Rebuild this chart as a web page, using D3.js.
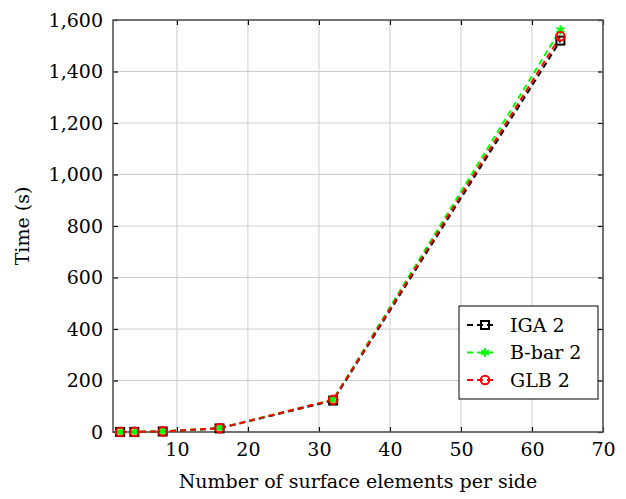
<!DOCTYPE html>
<html>
<head>
<meta charset="utf-8">
<script src="https://cdn.jsdelivr.net/npm/d3@7"></script>
<style>
  html, body { margin: 0; padding: 0; background: #fff; }
  svg { display: block; }
</style>
</head>
<body>
<svg id="chart" width="626" height="499"></svg>
<script>
// Elements per side and run times (s)
const elements = [2, 4, 8, 16, 32, 64];
const igaTime = [0.3, 0.4, 2, 14, 122, 1520];
const bbarTime = [0.3, 0.4, 2.5, 15, 126, 1562];
const glbTime = [0.3, 0.4, 2.3, 15, 125, 1537];

const xTicks = [10, 20, 30, 40, 50, 60, 70];
const yTicks = [0, 200, 400, 600, 800, 1000, 1200, 1400, 1600];

const series = [
  { name: "IGA 2", values: igaTime, color: "#000000", marker: "square" },
  { name: "B-bar 2", values: bbarTime, color: "#00ff00", marker: "star" },
  { name: "GLB 2", values: glbTime, color: "#ff0000", marker: "circle" }
];

const FONT = "DejaVu Serif";
const FS = "19px";

const svg = d3.select("#chart");
const plot = { left: 113, right: 603, top: 20, bottom: 432 };

const x = d3.scaleLinear().domain([1, 70]).range([plot.left, plot.right]);
const y = d3.scaleLinear().domain([0, 1600]).range([plot.bottom, plot.top]);

// grid
const grid = svg.append("g");
grid.selectAll("line.gx").data(xTicks).join("line")
  .attr("x1", d => x(d)).attr("x2", d => x(d))
  .attr("y1", plot.top).attr("y2", plot.bottom)
  .attr("stroke", "#cccccc").attr("stroke-width", 1);
grid.selectAll("line.gy").data(yTicks).join("line")
  .attr("x1", plot.left).attr("x2", plot.right)
  .attr("y1", d => y(d)).attr("y2", d => y(d))
  .attr("stroke", "#cccccc").attr("stroke-width", 1);

// axes with inward ticks on all four sides
const fmt = d3.format(",");
const bottomAxis = d3.axisBottom(x).tickValues(xTicks).tickSizeInner(-5).tickSizeOuter(0).tickPadding(11);
const topAxis = d3.axisTop(x).tickValues(xTicks).tickSizeInner(-5).tickSizeOuter(0).tickFormat("");
const leftAxis = d3.axisLeft(y).tickValues(yTicks).tickSizeInner(-5).tickSizeOuter(0).tickPadding(10).tickFormat(fmt);
const rightAxis = d3.axisRight(y).tickValues(yTicks).tickSizeInner(-5).tickSizeOuter(0).tickFormat("");

function styleAxis(g) {
  g.attr("font-family", FONT).attr("font-size", FS);
  g.select(".domain").remove();
  g.selectAll(".tick line").attr("stroke", "#000").attr("stroke-width", 1.2);
  g.selectAll(".tick text").attr("font-family", FONT).attr("font-size", FS).attr("fill", "#000");
}

svg.append("g").attr("transform", `translate(0,${plot.bottom})`).call(bottomAxis).call(styleAxis);
svg.append("g").attr("transform", `translate(0,${plot.top})`).call(topAxis).call(styleAxis);
svg.append("g").attr("transform", `translate(${plot.left},0)`).call(leftAxis).call(styleAxis);
svg.append("g").attr("transform", `translate(${plot.right},0)`).call(rightAxis).call(styleAxis);

// frame
svg.append("rect")
  .attr("x", plot.left).attr("y", plot.top)
  .attr("width", plot.right - plot.left).attr("height", plot.bottom - plot.top)
  .attr("fill", "none").attr("stroke", "#555").attr("stroke-width", 1.6);

// markers
function drawMarker(g, type, color, cx, cy) {
  if (type === "square") {
    g.append("rect").attr("x", cx - 4).attr("y", cy - 4).attr("width", 8).attr("height", 8)
      .attr("fill", "none").attr("stroke", color).attr("stroke-width", 2);
  } else if (type === "circle") {
    g.append("circle").attr("cx", cx).attr("cy", cy).attr("r", 4.3)
      .attr("fill", "none").attr("stroke", color).attr("stroke-width", 2);
  } else {
    const r = 4.5;
    for (let i = 0; i < 3; i++) {
      const a = Math.PI / 2 + i * Math.PI / 3;
      g.append("line")
        .attr("x1", cx + r * Math.cos(a)).attr("y1", cy - r * Math.sin(a))
        .attr("x2", cx - r * Math.cos(a)).attr("y2", cy + r * Math.sin(a))
        .attr("stroke", color).attr("stroke-width", 2);
    }
  }
}

const line = d3.line().x(d => x(d[0])).y(d => y(d[1]));
const marks = svg.append("g");
series.forEach(s => {
  const pts = elements.map((e, i) => [e, s.values[i]]);
  marks.append("path").datum(pts)
    .attr("d", line)
    .attr("fill", "none").attr("stroke", s.color).attr("stroke-width", 2)
    .attr("stroke-dasharray", "6,4");
});
series.forEach(s => {
  const g = marks.append("g");
  elements.forEach((e, i) => drawMarker(g, s.marker, s.color, x(e), y(s.values[i])));
});

// axis titles
svg.append("text")
  .attr("x", (plot.left + plot.right) / 2).attr("y", 488)
  .attr("text-anchor", "middle")
  .attr("font-family", FONT).attr("font-size", FS)
  .text("Number of surface elements per side");
svg.append("text")
  .attr("transform", `translate(29,${(plot.top + plot.bottom) / 2}) rotate(-90)`)
  .attr("text-anchor", "middle")
  .attr("font-family", FONT).attr("font-size", FS)
  .text("Time (s)");

// legend
const lg = svg.append("g");
lg.append("rect").attr("x", 459).attr("y", 306).attr("width", 139).attr("height", 93)
  .attr("fill", "#fff").attr("stroke", "#000").attr("stroke-width", 1);
series.forEach((s, i) => {
  const cy = 325 + i * 27.5;
  lg.append("line").attr("x1", 467).attr("x2", 497).attr("y1", cy).attr("y2", cy)
    .attr("stroke", s.color).attr("stroke-width", 2).attr("stroke-dasharray", "6,4");
  drawMarker(lg, s.marker, s.color, 485, cy);
  lg.append("text").attr("x", 510).attr("y", cy + 6.5)
    .attr("font-family", FONT).attr("font-size", FS)
    .text(s.name);
});
</script>
</body>
</html>
